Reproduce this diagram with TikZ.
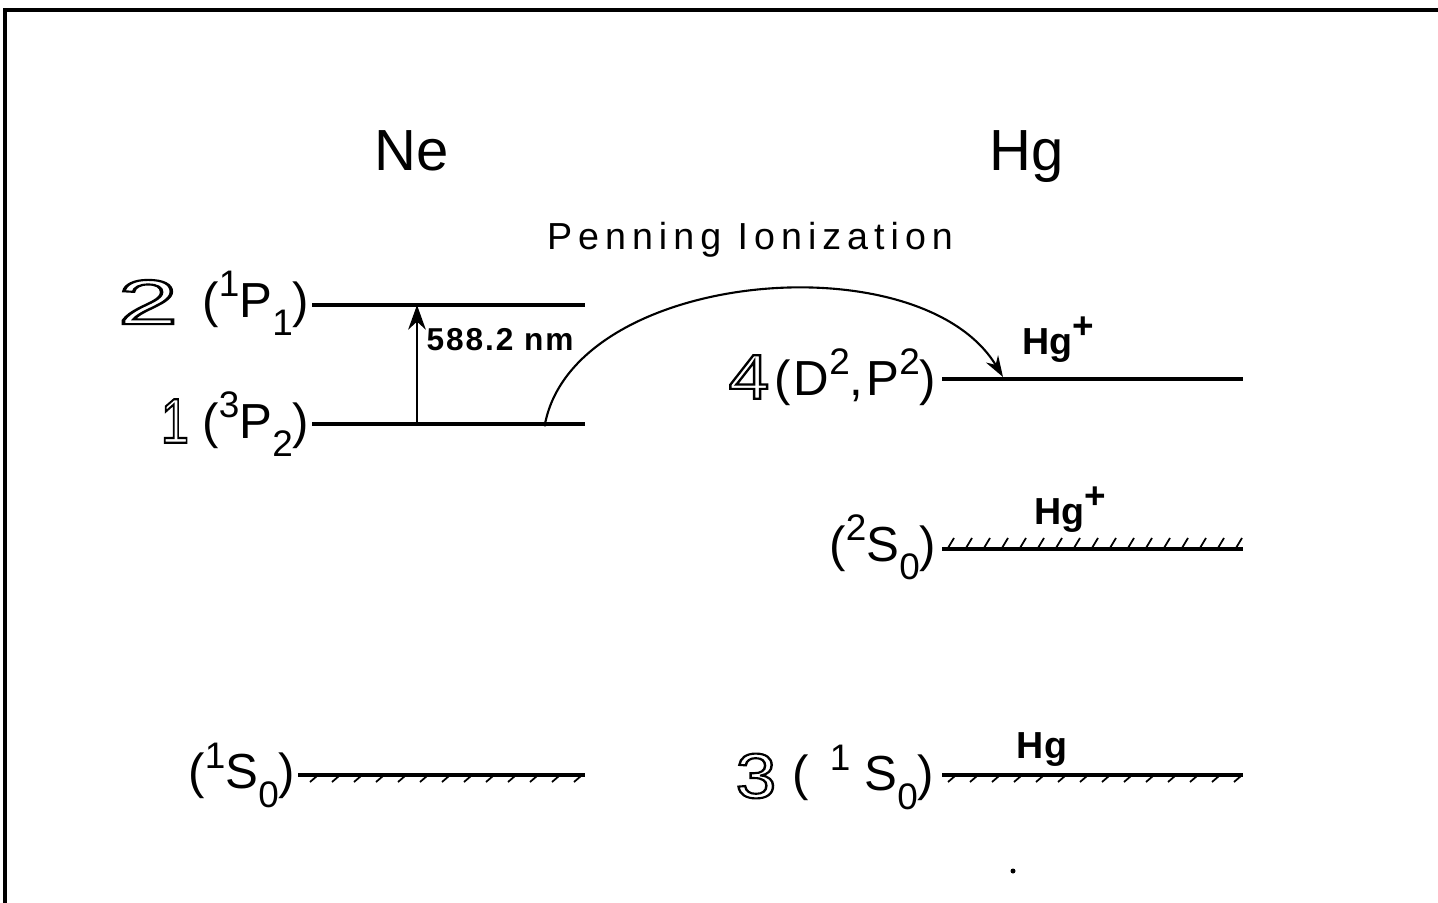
\documentclass[tikz,border=0pt]{standalone}
\usepackage{fontspec}
\setmainfont{Liberation Sans}
\usetikzlibrary{arrows.meta}
\newcommand{\hol}[1]{\special{pdf:literal q 1 Tr 0.6 w}#1\special{pdf:literal Q}}
\newcommand{\upr}[1]{\raisebox{0.8ex}{\fontsize{10.5}{11}\selectfont #1}}
\newcommand{\lwr}[1]{\raisebox{-0.7ex}{\fontsize{10.5}{11}\selectfont #1}}
\begin{document}
\begin{tikzpicture}[x=0.01cm,y=-0.01cm,
  lvl/.style={line width=1.2pt},
  hatch/.style={line width=0.5pt},
  title/.style={font=\fontsize{16.5}{18}\selectfont, anchor=base},
  term/.style={font=\fontsize{14}{16}\selectfont\addfontfeatures{LetterSpace=22}, inner sep=0pt},
  big/.style={font=\fontsize{18}{20}\selectfont, inner sep=0pt},
  lab/.style={font=\fontsize{10.7}{12}\selectfont\bfseries, inner sep=0pt},
  every node/.style={inner sep=0pt}]
\useasboundingbox (0,0) rectangle (1438,903);
\draw[line width=1.3pt] (5,903) -- (5,10) -- (1438,10);

% titles
\node[title] (tne) at (412,170) {Ne};
\node[title] (thg) at (1027,170) {Hg};
\node[font=\fontsize{10.7}{12}\selectfont\addfontfeatures{LetterSpace=16}] (pen) at (750,240) {Penning Ionization};

% level end points
\coordinate (n2a) at (312,305); \coordinate (n2b) at (585,305);
\coordinate (n1a) at (312,424); \coordinate (n1b) at (585,424);
\coordinate (n0a) at (298,775); \coordinate (n0b) at (585,775);
\coordinate (h4a) at (942,379); \coordinate (h4b) at (1243,379);
\coordinate (hpa) at (942,549); \coordinate (hpb) at (1243,549);
\coordinate (h3a) at (942,775); \coordinate (h3b) at (1243,775);

\draw[lvl] (n2a) -- (n2b);
\draw[lvl] (n1a) -- (n1b);
\draw[lvl] (n0a) -- (n0b);
\draw[lvl] (h4a) -- (h4b);
\draw[lvl] (hpa) -- (hpb);
\draw[lvl] (h3a) -- (h3b);

% hatching
\foreach \x in {310,332,...,580} \draw[hatch] (\x,782) -- (\x+7,776);
\foreach \x in {948,970,...,1235} \draw[hatch] (\x,782) -- (\x+7,776);
\foreach \x in {948,966,...,1236} \draw[hatch] (\x,548) -- (\x+6,538);

% transition arrow
\coordinate (ar1) at (417,424); \coordinate (ar2) at (417,305);
\draw[line width=0.8pt,-{Stealth[length=7pt,width=5pt]}] (ar1) -- (ar2);
\node[lab,anchor=west,font=\fontsize{9}{10}\selectfont\bfseries\addfontfeatures{LetterSpace=6}] (nm) at (426,340) {588.2 nm};

% Penning curve
\coordinate (cs) at (545,424); \coordinate (ce) at (1003,377);
\fill (cs) circle (2.5);
\draw[line width=0.6pt,-{Stealth[length=6pt,width=4pt]}] (cs) .. controls (575,270) and (920,240) .. (ce);

% left labels
\node[big,xscale=1.7] (d2) at (148,302) {\hol{2}};
\node[term,anchor=east] (t2) at (310,303) {(\upr{1}P\lwr{1})};
\node[big,xscale=0.8] (d1) at (175,421) {\hol{1}};
\node[term,anchor=east] (t1) at (310,424) {(\upr{3}P\lwr{2})};
\node[term,anchor=east] (t0) at (296,775) {(\upr{1}S\lwr{0})};

% right labels
\node[big,xscale=1.15] (d4) at (749,377) {\hol{4}};
\node[term,anchor=east,font=\fontsize{14}{16}\selectfont\addfontfeatures{LetterSpace=6}] (t4) at (937,377) {(D\upr{2},P\upr{2})};
\node[lab] (hg4) at (1058,340) {Hg\upr{+}};
\node[term,anchor=east] (tp) at (937,547) {(\upr{2}S\lwr{0})};
\node[lab] (hgp) at (1070,510) {Hg\upr{+}};
\node[big,xscale=1.15] (d3) at (756,776) {\hol{3}};
\node[term,anchor=east] (t3) at (935,777) {(\hspace{6pt}\upr{1}\hspace{4pt}S\lwr{0})};
\node[lab] (hg3) at (1042,750) {Hg};

\fill (1013,871) circle (2.5);
\end{tikzpicture}
\end{document}
